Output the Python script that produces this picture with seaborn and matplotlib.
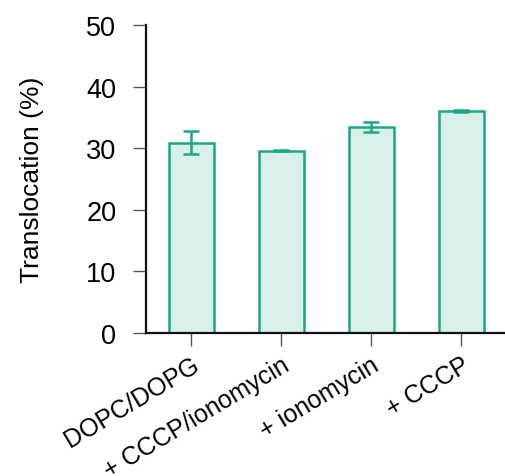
import matplotlib
matplotlib.use("Agg")
import matplotlib.pyplot as plt
import seaborn as sns
import pandas as pd

conditions = ["DOPC/DOPG", "+ CCCP/ionomycin", "+ ionomycin", "+ CCCP"]
translocation = [30.9, 29.6, 33.4, 36.1]
sem = [1.9, 0.1, 0.8, 0.2]

df = pd.DataFrame({"condition": conditions, "translocation": translocation})

sns.set_theme(style="ticks")
plt.rcParams["font.family"] = ["Liberation Sans", "DejaVu Sans"]
plt.rcParams["text.color"] = "black"
plt.rcParams["axes.labelcolor"] = "black"
plt.rcParams["xtick.labelcolor"] = "black"
plt.rcParams["ytick.labelcolor"] = "black"

edge = "#1aa886"
fill = "#d9f1ea"

fig = plt.figure(figsize=(5.06, 4.77), dpi=100)
ax = fig.add_axes([0.289, 0.30, 0.711, 0.645])

sns.barplot(data=df, x="condition", y="translocation", ax=ax, width=0.5,
            color=fill, edgecolor=edge, linewidth=1.8, errorbar=None, saturation=1)
ax.errorbar(range(len(conditions)), translocation, yerr=sem, fmt="none",
            ecolor=edge, elinewidth=1.8, capsize=6, capthick=1.8)

ax.set_ylim(0, 50)
ax.set_xlim(-0.5, 3.5)
ax.set_yticks([0, 10, 20, 30, 40, 50])
ax.set_xlabel("")
ax.set_ylabel("Translocation (%)", fontsize=19, labelpad=30)
ax.tick_params(axis="y", labelsize=19.5, length=9.5, width=1, color="#555555", pad=12)
ax.tick_params(axis="x", labelsize=18, length=9, width=1, color="#555555", pad=5)
for lab in ax.get_xticklabels():
    lab.set_rotation(31)
    lab.set_ha("right")
    lab.set_rotation_mode("anchor")
for s in ["top", "right"]:
    ax.spines[s].set_visible(False)
for s in ["left", "bottom"]:
    ax.spines[s].set_linewidth(1.6)
    ax.spines[s].set_color("#111111")

fig.savefig("out.png", dpi=100)
